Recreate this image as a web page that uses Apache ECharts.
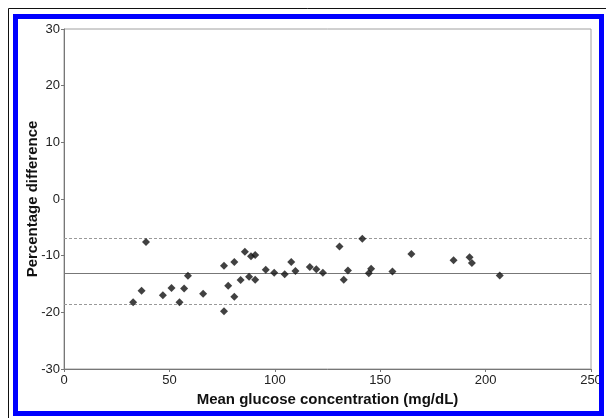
<!DOCTYPE html>
<html>
<head>
<meta charset="utf-8">
<script src="https://cdn.jsdelivr.net/npm/echarts@6/dist/echarts.min.js"></script>
<style>html,body{margin:0;padding:0;background:#fff}#c{width:606px;height:418px}</style>
</head>
<body>
<div id="c"></div>
<script>
var meanGlucose = [32.8,36.8,38.9,46.9,51.0,54.8,57.0,58.8,66.0,75.9,75.9,77.9,80.8,80.8,83.8,85.8,87.8,88.7,90.7,90.7,95.7,99.7,104.7,107.8,109.8,116.6,119.7,122.8,130.7,132.7,134.7,141.5,144.6,145.7,155.8,164.8,184.8,192.4,193.5,206.7];
var pctDiff = [-18.2,-16.2,-7.6,-17.0,-15.7,-18.2,-15.8,-13.55,-16.7,-11.8,-19.8,-15.3,-11.1,-17.25,-14.3,-9.3,-13.7,-10.1,-9.9,-14.25,-12.5,-13.0,-13.3,-11.1,-12.7,-12.0,-12.4,-13.0,-8.4,-14.25,-12.6,-7.0,-13.1,-12.3,-12.8,-9.7,-10.8,-10.3,-11.3,-13.5];
var meanDiff = -13.1;
var limitsOfAgreement = [-7.0, -18.5];
var xTicks = [0,50,100,150,200,250];
var yTicks = [-30,-20,-10,0,10,20,30];

var points = meanGlucose.map(function(x,i){return [x,pctDiff[i]];});
var chart = echarts.init(document.getElementById('c'));
var font = 'Liberation Sans, Arial, sans-serif';
chart.setOption({
  animation:false,
  grid:{left:64,top:29,width:527,height:340,show:true,borderColor:'#a0a0a0',borderWidth:1,backgroundColor:'transparent'},
  xAxis:{type:'value',min:xTicks[0],max:xTicks[xTicks.length-1],interval:50,
    name:'Mean glucose concentration (mg/dL)',nameLocation:'middle',nameGap:23,nameMoveOverlap:false,
    nameTextStyle:{fontFamily:font,fontSize:15,fontWeight:'bold',color:'#111'},
    axisLine:{onZero:false,lineStyle:{color:'#777',width:1}},
    axisTick:{show:true,length:3,lineStyle:{color:'#777'}},
    axisLabel:{fontFamily:font,fontSize:13,color:'#222',margin:5},
    splitLine:{show:false}},
  yAxis:{type:'value',min:yTicks[0],max:yTicks[yTicks.length-1],interval:10,
    name:'Percentage difference',nameLocation:'middle',nameGap:24,nameMoveOverlap:false,
    nameTextStyle:{fontFamily:font,fontSize:15,fontWeight:'bold',color:'#111'},
    axisLine:{show:true,onZero:false,lineStyle:{color:'#777',width:1}},
    axisTick:{show:true,length:3,lineStyle:{color:'#777'}},
    axisLabel:{fontFamily:font,fontSize:13,color:'#222',margin:4},
    splitLine:{show:false}},
  series:[{type:'scatter',data:points,symbol:'diamond',symbolSize:8,
    itemStyle:{color:'#111'},z:5,
    markLine:{silent:true,symbol:'none',label:{show:false},
      data:[
        {yAxis:meanDiff,lineStyle:{color:'#777',type:'solid',width:1}},
        {yAxis:limitsOfAgreement[0],lineStyle:{color:'#999',type:[3,2],width:1}},
        {yAxis:limitsOfAgreement[1],lineStyle:{color:'#999',type:[3,2],width:1}}
      ]}}],
  graphic:[
    {type:'line',z:100,shape:{x1:8.5,y1:8.5,x2:606,y2:8.5},style:{stroke:'#111',lineWidth:1}},
    {type:'line',z:100,shape:{x1:8.5,y1:8.5,x2:8.5,y2:418},style:{stroke:'#111',lineWidth:1}},
    {type:'rect',z:100,shape:{x:15.5,y:16.5,width:586,height:397},style:{fill:null,stroke:'#0000ff',lineWidth:5}}
  ]
});
</script>
</body>
</html>
